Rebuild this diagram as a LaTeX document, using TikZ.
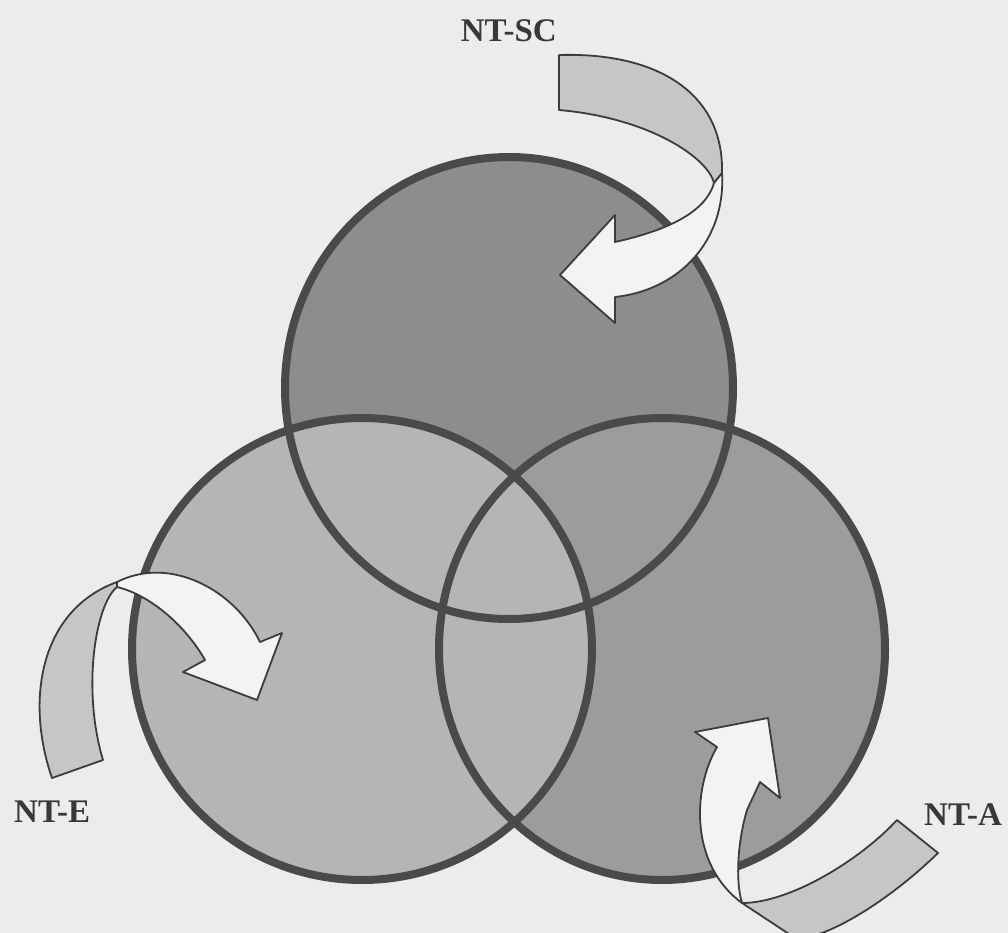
\documentclass[tikz,border=0pt]{standalone}
\usepackage{fontspec}
\setmainfont{Liberation Serif}
\definecolor{bg}{HTML}{ECECEC}
\definecolor{ctop}{HTML}{8D8D8D}
\definecolor{cright}{HTML}{9C9C9C}
\definecolor{cleft}{HTML}{B5B5B5}
\definecolor{cline}{HTML}{4A4A4A}
\definecolor{rback}{HTML}{C6C6C6}
\definecolor{rfront}{HTML}{F3F3F3}
\definecolor{rline}{HTML}{3C3C3C}
\definecolor{tcol}{HTML}{383838}
\begin{document}
\begin{tikzpicture}[x=1pt,y=-1pt,
  circ/.style={draw=cline,line width=8pt},
  ribbonback/.style={fill=rback,draw=rline,line width=1.8pt,line join=round},
  ribbonfront/.style={fill=rfront,draw=rline,line width=1.8pt,line join=round},
  lbl/.style={font=\bfseries\fontsize{33}{33}\selectfont,text=tcol,inner sep=0pt}]
\useasboundingbox (0,0) rectangle (1008,933);
\fill[bg] (0,0) rectangle (1008,933);
\clip (0,0) rectangle (1008,933);
% circle fills
\fill[ctop] (509,388) ellipse [x radius=224, y radius=231];
\fill[cright] (662,649) ellipse [x radius=223, y radius=231];
\fill[cleft] (362,649) ellipse [x radius=230, y radius=231];
% outlines
\draw[circ] (509,388) ellipse [x radius=224, y radius=231];
\draw[circ] (662,649) ellipse [x radius=223, y radius=231];
\draw[circ] (362,649) ellipse [x radius=230, y radius=231];
% NT-SC ribbon arrow
\draw[ribbonback] (559,55) .. controls (660,52) and (724,95) .. (722,173)
  -- (714,183) .. controls (708,158) and (650,118) .. (559,110) -- cycle;
\draw[ribbonfront] (722,173) .. controls (726,240) and (680,290) .. (615,297)
  -- (615,323) -- (560,275) -- (615,215) -- (615,242)
  .. controls (660,232) and (705,215) .. (714,183) -- cycle;
% NT-E ribbon arrow
\draw[ribbonback] (52,778) .. controls (25,700) and (40,610) .. (117,582)
  -- (117,587) .. controls (95,605) and (82,690) .. (103,760) -- cycle;
\draw[ribbonfront] (117,582) .. controls (170,555) and (235,590) .. (260,642)
  -- (282,633) -- (257,700) -- (183,672) -- (205,660)
  .. controls (185,625) and (150,595) .. (117,587) -- cycle;
% NT-A ribbon arrow
\draw[ribbonback] (742,903) .. controls (790,903) and (860,860) .. (897,820)
  -- (938,853) .. controls (900,890) and (850,925) .. (813,936)
  -- (792,936) -- cycle;
\draw[ribbonfront] (742,903) .. controls (735,880) and (738,840) .. (747,810)
  -- (760,782) -- (780,798) -- (768,718) -- (695,732) -- (717,747)
  .. controls (692,790) and (690,865) .. (742,903) -- cycle;
% labels
\node[lbl,anchor=base east] (sc) at (557,42) {NT-SC};
\node[lbl,anchor=base west] (e) at (14,822) {NT-E};
\node[lbl,anchor=base east] (a) at (1002,825) {NT-A};
\end{tikzpicture}
\end{document}
